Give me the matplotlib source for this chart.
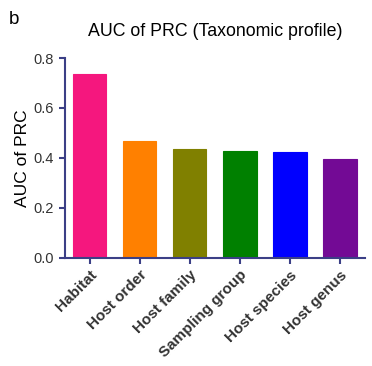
import numpy as np
import matplotlib.pyplot as plt

plt.rcParams['font.family'] = ['Liberation Sans', 'DejaVu Sans']

categories = ['Habitat', 'Host order', 'Host family', 'Sampling group', 'Host species', 'Host genus']
auc_prc = [0.734, 0.467, 0.434, 0.427, 0.423, 0.396]
bar_colors = ['#F5177E', '#FF8000', '#808000', '#008000', '#0000FF', '#730A95']
yticks = [0.0, 0.2, 0.4, 0.6, 0.8]

axis_col = '#3B3F86'

fig = plt.figure(figsize=(3.72, 3.66), dpi=100)
ax = fig.add_axes([0.174, 0.296, 0.807, 0.5455])

x = np.arange(len(categories))
ax.bar(x, auc_prc, width=0.667, color=bar_colors, edgecolor=bar_colors, linewidth=0.8)

ax.set_xlim(-0.5, 5.5)
ax.set_ylim(0, 0.8)
ax.set_yticks(yticks)
ax.set_yticklabels(['%.1f' % v for v in yticks])
ax.set_xticks(x)
ax.set_xticklabels(categories, rotation=45, ha='right', rotation_mode='anchor',
                   fontsize=11, fontweight='bold', color='#333333')

for s in ['top', 'right']:
    ax.spines[s].set_visible(False)
for s in ['left', 'bottom']:
    ax.spines[s].set_color(axis_col)
    ax.spines[s].set_linewidth(1.5)
ax.tick_params(axis='both', colors=axis_col, width=1.5, length=4.5)
ax.tick_params(axis='y', labelcolor='#333333', labelsize=10.5)
ax.tick_params(axis='x', labelcolor='#333333', pad=3)

ax.set_ylabel('AUC of PRC', fontsize=12.5, color='black', labelpad=2)
ax.set_title('AUC of PRC (Taxonomic profile)', fontsize=12.8, pad=16)
fig.text(0.024, 0.948, 'b', fontsize=13.5, va='center')

fig.savefig('out.png', dpi=100)
